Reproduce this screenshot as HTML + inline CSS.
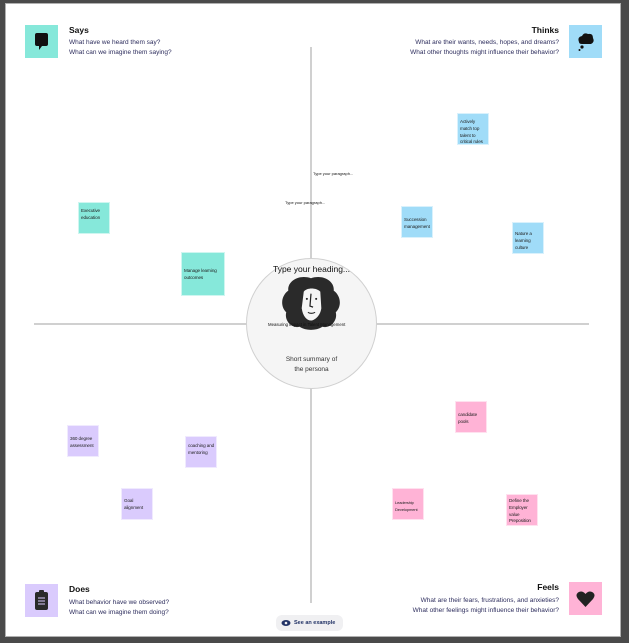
<!DOCTYPE html>
<html><head><meta charset="utf-8"><style>
*{margin:0;padding:0;box-sizing:border-box}
body{width:629px;height:643px;background:#4a4a4a;position:relative;overflow:hidden;font-family:"Liberation Sans",Arial,sans-serif}
#f{position:absolute;left:5px;top:3px;width:616px;height:634px;background:#fff;border:1px solid #b0b0b0}
.a{position:absolute;background:#d0d0d0}
.s{position:absolute;width:32px;height:32px;font-size:4.6px;line-height:6.8px;color:#222;padding:5px 0 0 2px;border:1px solid rgba(255,255,255,.6);letter-spacing:-0.1px}
.t{background:#86e8da}.b{background:#a0dcf8}.p{background:#dacbfd}.k{background:#ffb3d6}
.ic{position:absolute;width:33px;height:33px}
.h{position:absolute;font-size:8.5px;font-weight:bold;color:#111}
.q{position:absolute;font-size:6.5px;line-height:9.5px;color:#2e2e5e;white-space:nowrap}
.r{text-align:right}
.tiny{position:absolute;font-size:4px;color:#111;white-space:nowrap}
</style></head><body>
<div id="f"></div>
<div class="a" style="left:310px;top:47px;width:2px;height:556px"></div>
<div class="a" style="left:34px;top:323px;width:555px;height:2px"></div>
<div style="position:absolute;left:246px;top:258px;width:131px;height:131px;border-radius:50%;background:#f5f5f5;border:1.5px solid #d0d0d0"></div>
<div style="position:absolute;left:246px;top:264px;width:131px;text-align:center;font-size:8.5px;color:#111">Type your heading...</div>
<svg style="position:absolute;left:279px;top:276px" width="64" height="54" viewBox="0 0 62 52">
<path d="M31 2 C19 -2 8 5 9 14 C2 19 1 29 7 35 C5 43 12 51 20 49 C26 53 36 53 42 49 C50 51 57 43 55 35 C61 29 60 19 53 14 C54 5 43 -2 31 2Z" fill="#2a2a2a"/>
<path d="M24 15 C27 11 36 11 40 15 L41 31 C40 39 34 43 31 43 C27 43 23 39 22 31Z" fill="#f5f5f5"/>
<path d="M31 17 L30 29 L33 30" stroke="#222" fill="none" stroke-width="1.2"/>
<circle cx="27" cy="22" r="1" fill="#222"/><circle cx="36" cy="22" r="1" fill="#222"/>
<path d="M28 35 Q31 37 35 35" stroke="#222" fill="none" stroke-width="1"/>
</svg>
<div class="tiny" style="left:268px;top:322px;font-size:4.3px">Measuring impact in Talent Management</div>
<div style="position:absolute;left:246px;top:355px;width:131px;text-align:center;font-size:6.5px;line-height:10px;color:#333">Short summary of<br>the persona</div>
<div class="tiny" style="left:313px;top:171px">Type your paragraph...</div>
<div class="tiny" style="left:285px;top:200px">Type your paragraph...</div>

<div class="s t" style="left:78px;top:202px">Executive education</div>
<div class="s t" style="left:181px;top:252px;width:44px;height:44px;padding-top:15px">Manage learning outcomes</div>
<div class="s b" style="left:457px;top:113px">Actively match top talent to critical rules</div>
<div class="s b" style="left:401px;top:206px;padding-top:10px">Succession management</div>
<div class="s b" style="left:512px;top:222px;padding-top:8px">Nature a learning culture</div>
<div class="s p" style="left:67px;top:425px;padding-top:10px">360 degree assessment</div>
<div class="s p" style="left:185px;top:436px;padding-top:6px">coaching and mentoring</div>
<div class="s p" style="left:121px;top:488px;padding-top:9px">Goal alignment</div>
<div class="s k" style="left:455px;top:401px;padding-top:10px">candidate pools</div>
<div class="s k" style="left:392px;top:488px;padding-top:11px;font-size:4px">Leadership Development</div>
<div class="s k" style="left:506px;top:494px;padding-top:3px">Define the Employer value Preposition</div>

<div class="ic" style="left:25px;top:25px;background:#86e8da"><svg width="33" height="33"><path d="M10 10 Q10 8 12 8 L21 8 Q23 8 23 10 L23 19 Q23 21 21 21 L17 21 L14 25 L14 21 L12 21 Q10 21 10 19Z" fill="#111"/></svg></div>
<div class="h" style="left:69px;top:25px">Says</div>
<div class="q" style="left:69px;top:38px">What have we heard them say?<br>What can we imagine them saying?</div>

<div class="ic" style="left:569px;top:25px;background:#a0dcf8"><svg width="33" height="33"><path d="M10 17 Q8 12 13 11 Q15 7 19 9 Q24 8 24 13 Q26 17 22 19 L13 19 Q10 19 10 17Z" fill="#111"/><circle cx="13" cy="22" r="1.6" fill="#111"/><circle cx="10.5" cy="25" r="1" fill="#111"/></svg></div>
<div class="h r" style="right:70px;top:25px">Thinks</div>
<div class="q r" style="right:70px;top:38px">What are their wants, needs, hopes, and dreams?<br>What other thoughts might influence their behavior?</div>

<div class="ic" style="left:25px;top:584px;background:#dacbfd"><svg width="33" height="33"><rect x="10" y="8" width="13" height="18" rx="2" fill="#2a2a2a"/><rect x="14" y="6" width="5" height="4" rx="1" fill="#2a2a2a"/><g stroke="#dacbfd" stroke-width="1"><line x1="13" y1="14" x2="20" y2="14"/><line x1="13" y1="17" x2="20" y2="17"/><line x1="13" y1="20" x2="20" y2="20"/></g></svg></div>
<div class="h" style="left:69px;top:584px">Does</div>
<div class="q" style="left:69px;top:598px">What behavior have we observed?<br>What can we imagine them doing?</div>

<div class="ic" style="left:569px;top:582px;background:#ffb3d6"><svg width="33" height="33"><path d="M16.5 25 L9 17 Q6 13 9 10.5 Q13 8 16.5 12 Q20 8 24 10.5 Q27 13 24 17Z" fill="#222"/></svg></div>
<div class="h r" style="right:70px;top:582px">Feels</div>
<div class="q r" style="right:70px;top:596px">What are their fears, frustrations, and anxieties?<br>What other feelings might influence their behavior?</div>

<div style="position:absolute;left:276px;top:615px;width:67px;height:16px;border-radius:6px;background:#f0f0f2;font-size:5.5px;font-weight:bold;color:#223366;line-height:16px;padding-left:18px">See an example</div>
<svg style="position:absolute;left:281px;top:619px" width="10" height="8"><ellipse cx="5" cy="4" rx="4.5" ry="3" fill="#223366"/><circle cx="5" cy="4" r="1.3" fill="#f0f0f2"/></svg>
</body></html>
